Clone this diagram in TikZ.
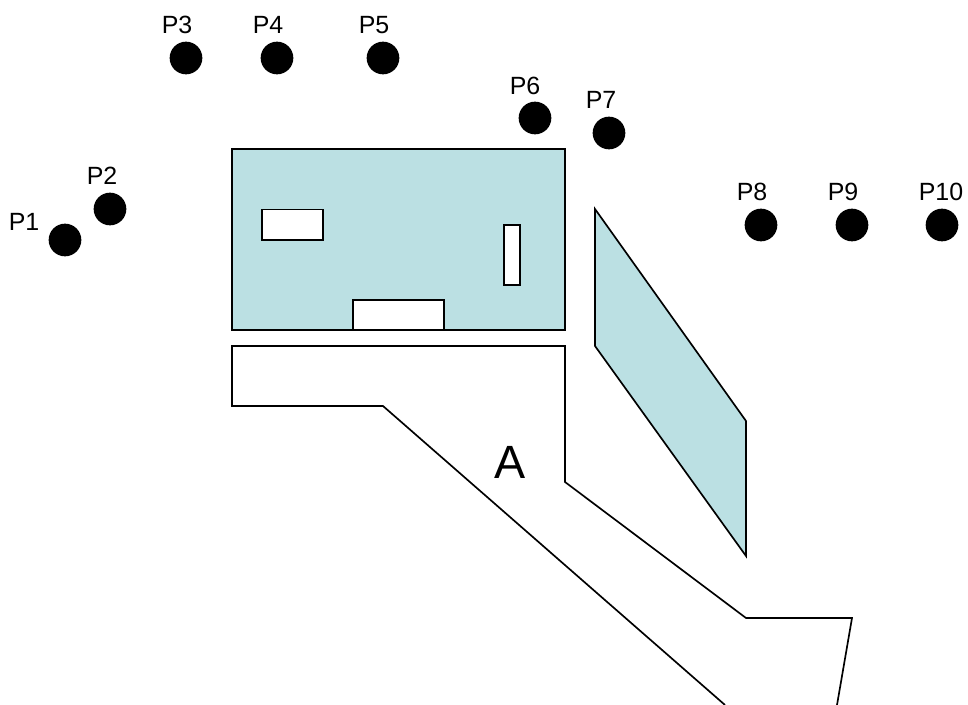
\documentclass[tikz,border=0pt]{standalone}
\usepackage{fontspec}
\setmainfont{Liberation Sans}
\usepackage{tikz}
\definecolor{panel}{HTML}{BBE0E3}

\begin{document}
\begin{tikzpicture}[
    x=0.75pt, y=-0.75pt,
    outline/.style={draw=black, line width=1.25pt, line join=miter},
    panelbox/.style={outline, fill=panel},
    slot/.style={outline, fill=white},
    pt/.style={circle, fill=black, draw=none, minimum size=24.5pt, inner sep=0pt},
    ptlabel/.style={font=\fontsize{18.7}{18.7}\selectfont, inner sep=0pt}
]

\useasboundingbox (0,0) rectangle (968,705);

% Main panel
\draw[panelbox] (232,149) -- (565,149) -- (565,330) -- (232,330) -- cycle;

% Slots in the panel
\draw[slot] (262,209.5) -- (323,209.5) -- (323,240) -- (262,240) -- cycle;
\draw[slot] (504,225) -- (520,225) -- (520,285) -- (504,285) -- cycle;
\draw[slot] (353,300) -- (444,300) -- (444,330) -- (353,330) -- cycle;

% Slanted panel
\draw[panelbox] (595,209) -- (746,421) -- (746,556) -- (595,346) -- cycle;

% Region A, runs off the bottom edge
\draw[outline] (725,705) -- (383,406) -- (232,406) -- (232,346) -- (565,346)
    -- (565,482) -- (746,618) -- (852,618) -- (837,705);
\node[font=\fontsize{35}{35}\selectfont, inner sep=0pt] (regiona) at (510,462) {A};

% Points
\node[pt] (p1) at (65,240) {};
\node[pt] (p2) at (110,209) {};
\node[pt] (p3) at (186,58) {};
\node[pt] (p4) at (277,58) {};
\node[pt] (p5) at (383,58) {};
\node[pt] (p6) at (535,118) {};
\node[pt] (p7) at (609,133) {};
\node[pt] (p8) at (761,225) {};
\node[pt] (p9) at (852,225) {};
\node[pt] (p10) at (942,225) {};

% Point labels
\node[ptlabel] (lp1) at (24,222) {P1};
\node[ptlabel] (lp2) at (102,176) {P2};
\node[ptlabel] (lp3) at (177,25) {P3};
\node[ptlabel] (lp4) at (268,25) {P4};
\node[ptlabel] (lp5) at (374,25) {P5};
\node[ptlabel] (lp6) at (525,86) {P6};
\node[ptlabel] (lp7) at (601,100) {P7};
\node[ptlabel] (lp8) at (752,192) {P8};
\node[ptlabel] (lp9) at (843,192) {P9};
\node[ptlabel] (lp10) at (941,192) {P10};

\end{tikzpicture}
\end{document}
